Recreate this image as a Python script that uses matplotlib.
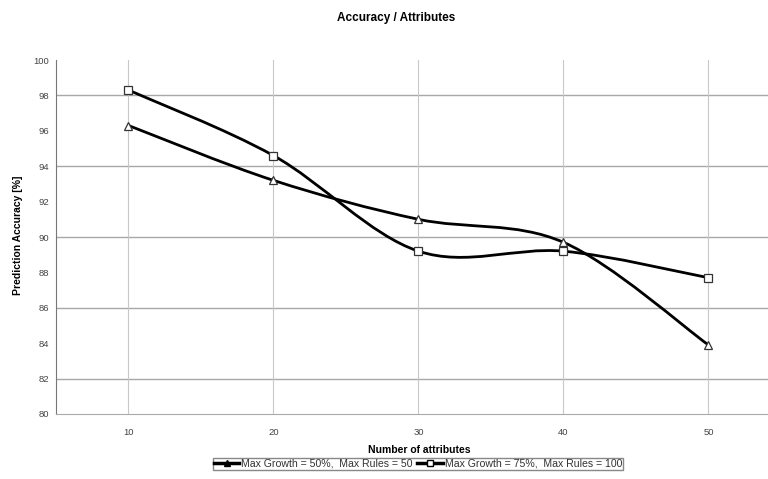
import matplotlib
matplotlib.use('Agg')
import matplotlib.pyplot as plt
from matplotlib.path import Path
from matplotlib.patches import PathPatch
from matplotlib.lines import Line2D

plt.rcParams['font.family'] = ['Liberation Sans', 'DejaVu Sans']

# Data
attributes = [10, 20, 30, 40, 50]
acc_growth50 = [96.3, 93.2, 91.0, 89.7, 83.9]   # Max Growth = 50%, Max Rules = 50
acc_growth75 = [98.3, 94.6, 89.2, 89.2, 87.7]   # Max Growth = 75%, Max Rules = 100
label_50 = 'Max Growth = 50%,  Max Rules = 50'
label_75 = 'Max Growth = 75%,  Max Rules = 100'


def smooth_path(xs, ys):
    # Excel-style smoothed line: cubic Bezier through every data point
    pts = list(zip(xs, ys))
    verts = [pts[0]]
    codes = [Path.MOVETO]
    n = len(pts)
    for i in range(n - 1):
        p0 = pts[i - 1] if i > 0 else pts[i]
        p1 = pts[i]
        p2 = pts[i + 1]
        p3 = pts[i + 2] if i + 2 < n else pts[i + 1]
        c1 = (p1[0] + (p2[0] - p0[0]) / 6, p1[1] + (p2[1] - p0[1]) / 6)
        c2 = (p2[0] - (p3[0] - p1[0]) / 6, p2[1] - (p3[1] - p1[1]) / 6)
        verts += [c1, c2, p2]
        codes += [Path.CURVE4] * 3
    return Path(verts, codes)


fig = plt.figure(figsize=(7.68, 4.79), dpi=100)
ax = fig.add_axes([0.0729, 0.1357, 0.944, 0.739])

ax.set_xlim(5, 55)
ax.set_ylim(80, 100)

# grid
for y in [82, 86, 90, 94, 98]:
    ax.axhline(y, color='#a8a8a8', linewidth=1.0, zorder=1)
for x in attributes:
    ax.axvline(x, color='#c8c8c8', linewidth=0.8, zorder=1)

for vals, marker in [(acc_growth50, '^'), (acc_growth75, 's')]:
    ax.add_patch(PathPatch(smooth_path(attributes, vals), facecolor='none',
                           edgecolor='black', linewidth=2.0, zorder=3))
    ax.plot(attributes, vals, linestyle='none', marker=marker, markersize=5.5,
            markerfacecolor='white', markeredgecolor='#333333',
            markeredgewidth=0.9, zorder=4)

ax.set_xticks(attributes)
ax.set_yticks(range(80, 101, 2))
ax.tick_params(axis='both', labelsize=6.8, colors='#444444', length=0)
ax.tick_params(axis='y', pad=5)
ax.tick_params(axis='x', pad=10)

for side in ['top', 'right']:
    ax.spines[side].set_visible(False)
ax.spines['left'].set_color('#777777')
ax.spines['bottom'].set_color('#aaaaaa')

fig.text(396 / 768, 1 - 18 / 479, 'Accuracy / Attributes', fontsize=8.5,
         fontweight='bold', ha='center', va='center')
fig.text(419 / 768, 1 - 450 / 479, 'Number of attributes', fontsize=7.5,
         fontweight='bold', ha='center', va='center')
fig.text(18 / 768, 1 - 235 / 479, 'Prediction Accuracy [%]', fontsize=7.5,
         fontweight='bold', ha='center', va='center', rotation=90)

handles = [
    Line2D([], [], color='black', linewidth=2.5, marker='^', markersize=5,
           markerfacecolor='black', markeredgecolor='black'),
    Line2D([], [], color='black', linewidth=2.5, marker='s', markersize=5,
           markerfacecolor='white', markeredgecolor='black'),
]
leg = fig.legend(handles, [label_50, label_75], loc='center',
                 bbox_to_anchor=(418 / 768, 1 - 464 / 479),
                 ncol=2, fontsize=7.6, frameon=True, fancybox=False, edgecolor='#888888',
                 handlelength=2.4, handletextpad=0.2, columnspacing=0.4,
                 borderpad=0.1, framealpha=1)
for t in leg.get_texts():
    t.set_color('#333333')

fig.savefig('out.png', dpi=100)
